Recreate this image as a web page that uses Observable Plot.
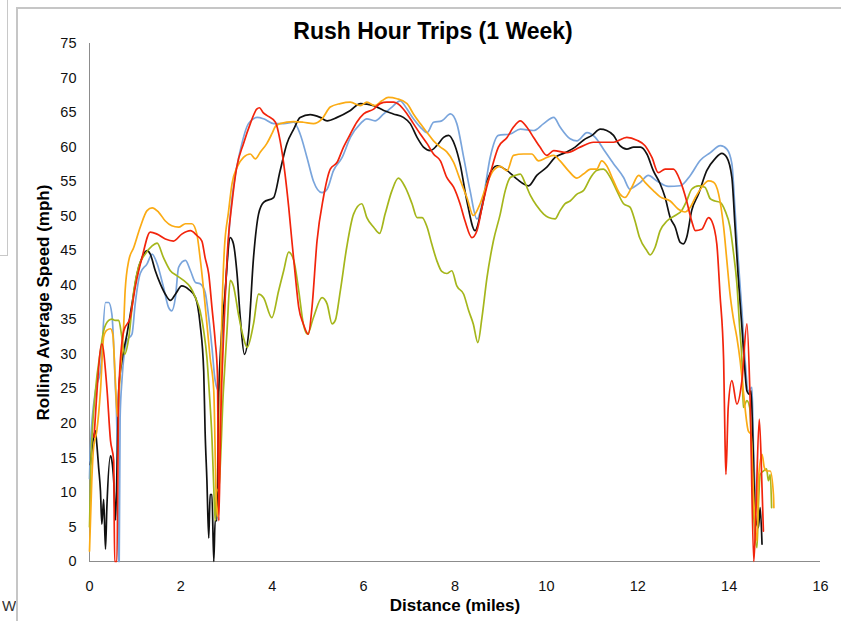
<!DOCTYPE html>
<html>
<head>
<meta charset="utf-8">
<script src="https://cdn.jsdelivr.net/npm/d3@7"></script>
<script src="https://cdn.jsdelivr.net/npm/@observablehq/plot@0.6"></script>
<style>
  body { margin: 0; background: #fff; }
  #wrap { position: relative; width: 841px; height: 621px; overflow: hidden; background: #fff; font-family: "Liberation Sans", Arial, sans-serif; }
  #box { position: absolute; left: -2px; top: -2px; width: 8px; height: 256px; border: 1px solid #c8c8c8; }
  #frame { position: absolute; left: 16px; top: 7px; width: 840px; height: 640px; border-top: 2px solid #c6c6c6; border-left: 2px solid #c6c6c6; }
  #w { position: absolute; left: 2px; top: 597px; font-size: 15px; color: #333; width: 14px; overflow: hidden; }
  #chart { position: absolute; left: 0; top: 0; }
</style>
</head>
<body>
<div id="wrap">
  <div id="box"></div>
  <div id="frame"></div>
  <div id="w">W</div>
  <div id="chart"></div>
</div>
<script>
const title = "Rush Hour Trips (1 Week)";
const xLabel = "Distance (miles)";
const yLabel = "Rolling Average Speed (mph)";
const xTicks = [0, 2, 4, 6, 8, 10, 12, 14, 16];
const yTicks = [0, 5, 10, 15, 20, 25, 30, 35, 40, 45, 50, 55, 60, 65, 70, 75];

const redTrip = [[0.10,18],[0.15,23.3],[0.27,31.5],[0.38,25.2],[0.46,17.5],[0.53,14.6],[0.55,0],[0.60,0],[0.64,24.7],[0.75,33.4],[0.89,35.3],[1.00,39.7],[1.15,44.0],[1.33,47.7],[1.48,47.4],[1.66,46.7],[1.84,46.4],[2.02,47.4],[2.21,47.9],[2.35,47.2],[2.46,46.4],[2.53,44.0],[2.61,41.6],[2.68,36.8],[2.75,32.0],[2.80,27.2],[2.83,5.9],[2.87,20],[2.95,35],[3.03,46],[3.12,52],[3.22,57],[3.37,60.5],[3.52,63.4],[3.66,65.5],[3.72,65.7],[3.80,65.0],[3.88,64.6],[4.07,63.6],[4.17,61.0],[4.28,56.1],[4.36,51.3],[4.43,46.4],[4.50,41.7],[4.58,36.8],[4.68,34.4],[4.79,32.9],[4.87,36.8],[4.98,46.4],[5.12,52.7],[5.27,56.8],[5.42,57.8],[5.56,60.0],[5.71,61.9],[5.85,63.6],[6.00,64.8],[6.22,65.5],[6.36,66.3],[6.51,66.5],[6.65,66.5],[6.80,66.0],[6.95,64.8],[7.09,63.4],[7.24,61.9],[7.39,60.5],[7.53,59.0],[7.68,58.0],[7.82,55.6],[7.97,54.2],[8.11,51.8],[8.22,49.3],[8.37,46.9],[8.48,47.9],[8.62,52.2],[8.77,56.1],[8.95,60.0],[9.14,61.4],[9.28,62.9],[9.43,63.8],[9.57,62.9],[9.72,61.4],[9.86,60.0],[10.01,58.8],[10.16,59.5],[10.45,59.2],[10.74,60.0],[11.03,60.7],[11.47,60.7],[11.76,61.4],[11.98,61.0],[12.16,60.2],[12.31,58.5],[12.45,56.3],[12.60,56.8],[12.78,56.8],[12.93,55.1],[13.07,52.2],[13.18,49.3],[13.26,47.9],[13.40,48.1],[13.55,49.8],[13.62,49.3],[13.73,46.0],[13.80,38.7],[13.88,29.1],[13.91,17.5],[13.93,12.6],[13.98,22.3],[14.06,26.2],[14.17,22.8],[14.28,26.2],[14.39,34.4],[14.46,23.3],[14.54,0],[14.58,5.9],[14.66,20.6],[14.72,10.7],[14.75,4.4]];

const blueTrip = [[0.0,12],[0.02,16.5],[0.13,24.7],[0.24,27.6],[0.35,37.5],[0.42,37.5],[0.49,35.8],[0.56,26.2],[0.60,18.9],[0.63,0],[0.65,0],[0.67,20.8],[0.71,26.2],[0.82,32],[0.93,32.9],[1.00,37.3],[1.11,41.7],[1.26,43.1],[1.37,44.5],[1.48,43.1],[1.62,39.7],[1.73,36.8],[1.80,36.3],[1.88,38.2],[1.95,42.6],[2.10,43.6],[2.21,42.1],[2.32,40.4],[2.42,40.2],[2.53,39.0],[2.61,35.3],[2.68,31.0],[2.75,26.2],[2.83,24.7],[2.90,31.0],[3.00,42],[3.08,50],[3.15,54.2],[3.30,59.5],[3.48,63.4],[3.67,64.3],[3.81,64.1],[4.03,63.4],[4.25,63.4],[4.47,63.6],[4.61,61.9],[4.76,58.5],[4.90,55.1],[5.09,53.4],[5.20,53.9],[5.34,56.6],[5.53,58.5],[5.71,61.4],[5.93,63.4],[6.07,64.1],[6.25,63.8],[6.44,64.8],[6.62,65.8],[6.80,66.7],[6.95,65.5],[7.09,64.1],[7.24,62.9],[7.39,62.1],[7.53,63.6],[7.71,63.8],[7.90,64.8],[8.04,63.4],[8.19,58.5],[8.33,53.7],[8.48,49.6],[8.62,52.7],[8.77,58.5],[8.95,61.7],[9.21,61.9],[9.43,62.6],[9.72,62.4],[9.94,63.4],[10.16,64.3],[10.30,62.9],[10.52,61.2],[10.67,60.9],[10.89,62.1],[11.07,61.4],[11.25,59.7],[11.47,57.6],[11.69,55.6],[11.83,53.9],[11.91,54.2],[12.06,54.9],[12.23,55.9],[12.42,55.1],[12.67,54.3],[12.93,54.4],[13.15,55.9],[13.37,58.1],[13.59,59.2],[13.81,60.2],[13.95,59.7],[14.06,57.6],[14.13,50.8],[14.20,43.6],[14.28,36.3],[14.35,29.1],[14.42,24.7],[14.50,25.2],[14.53,17.5],[14.57,10.2],[14.61,7.8]];

const blackTrip = [[0.02,14],[0.09,18],[0.13,18.9],[0.16,17.0],[0.20,13.6],[0.24,10.2],[0.27,5.4],[0.31,9.0],[0.35,1.8],[0.38,7.8],[0.46,15.3],[0.49,14.6],[0.53,11.7],[0.57,6],[0.61,16],[0.64,24.7],[0.71,29.1],[0.82,32.9],[0.93,37.3],[1.04,41.6],[1.15,44.0],[1.26,45.0],[1.33,44.5],[1.44,42.1],[1.55,40.2],[1.66,38.7],[1.77,37.8],[1.88,38.7],[2.02,39.9],[2.17,39.4],[2.32,38.2],[2.42,34.4],[2.50,27.5],[2.53,18.9],[2.57,11.7],[2.61,3.4],[2.64,9.7],[2.68,9.7],[2.72,0],[2.75,5.9],[2.79,5.9],[2.83,24.7],[2.97,39.2],[3.08,46.9],[3.15,46.0],[3.23,41.6],[3.30,35.3],[3.39,30.0],[3.48,32.9],[3.59,44.0],[3.70,50.3],[3.81,52.0],[4.03,52.7],[4.17,56.5],[4.32,60.5],[4.47,62.6],[4.61,64.3],[4.83,64.7],[5.05,64.3],[5.20,63.8],[5.42,64.3],[5.71,65.3],[5.93,66.3],[6.22,66.0],[6.44,65.3],[6.65,64.8],[6.87,64.3],[7.02,63.4],[7.17,61.4],[7.31,60.0],[7.46,59.5],[7.60,60.2],[7.75,61.4],[7.86,61.7],[8.00,60.2],[8.11,57.6],[8.26,52.2],[8.44,47.9],[8.59,51.3],[8.73,55.6],[8.92,57.3],[9.14,56.6],[9.35,55.4],[9.61,54.4],[9.79,55.9],[10.01,57.1],[10.19,58.5],[10.41,59.2],[10.63,60.0],[10.81,61.0],[11.00,61.7],[11.18,62.6],[11.32,62.4],[11.47,61.7],[11.61,60.2],[11.76,59.7],[11.91,60.0],[12.06,60.0],[12.20,59.0],[12.34,56.6],[12.49,54.7],[12.60,52.7],[12.71,49.8],[12.82,48.4],[12.93,46.2],[13.00,46.0],[13.07,46.9],[13.18,50.8],[13.33,53.2],[13.51,56.6],[13.69,58.3],[13.84,59.1],[13.95,58.5],[14.06,55.6],[14.13,48.4],[14.20,41.1],[14.28,33.9],[14.33,29.1],[14.39,24.7],[14.45,24.2],[14.48,24.7],[14.52,17.5],[14.57,6.8],[14.64,4.9],[14.68,7.8],[14.72,2.5]];

const orangeTrip = [[0.0,1.5],[0.05,11.7],[0.09,16.5],[0.16,18.9],[0.24,24.7],[0.31,32.5],[0.38,33.5],[0.46,33.7],[0.51,32.9],[0.56,27],[0.61,21],[0.67,27.1],[0.75,34.4],[0.78,39.2],[0.86,43.6],[0.97,45.5],[1.11,48.4],[1.26,50.8],[1.37,51.2],[1.51,50.6],[1.66,49.3],[1.80,48.6],[1.95,48.4],[2.10,48.9],[2.24,48.9],[2.35,47.4],[2.42,44.0],[2.50,39.2],[2.57,34.4],[2.64,29.5],[2.72,24.7],[2.77,10],[2.80,6.5],[2.84,12],[2.88,30],[2.95,45],[3.04,50.5],[3.12,54.7],[3.23,57.1],[3.37,58.5],[3.52,59.0],[3.63,58.3],[3.74,59.3],[3.88,60.5],[3.99,61.9],[4.07,63.0],[4.17,63.4],[4.47,63.7],[4.68,63.6],[4.90,63.4],[5.09,64.1],[5.27,65.8],[5.49,66.3],[5.71,66.5],[5.93,66.0],[6.07,66.5],[6.25,66.0],[6.40,66.7],[6.54,67.2],[6.73,67.0],[6.95,66.3],[7.09,64.8],[7.24,63.4],[7.39,62.1],[7.53,60.9],[7.68,60.0],[7.82,59.3],[7.97,57.8],[8.11,55.3],[8.26,52.7],[8.40,50.1],[8.55,51.8],[8.70,54.7],[8.84,56.6],[8.99,57.2],[9.14,56.6],[9.28,58.8],[9.50,59.0],[9.68,59.0],[9.83,58.0],[10.01,58.5],[10.16,58.8],[10.30,58.0],[10.48,56.6],[10.67,55.5],[10.81,56.1],[10.97,56.8],[11.10,56.8],[11.21,58.0],[11.32,57.3],[11.47,55.1],[11.61,53.2],[11.72,52.7],[11.87,54.2],[12.02,55.9],[12.16,54.9],[12.34,53.7],[12.49,52.8],[12.71,52.2],[12.89,51.0],[13.03,50.6],[13.15,51.3],[13.26,52.7],[13.40,54.2],[13.55,55.1],[13.66,54.9],[13.77,53.2],[13.88,48.4],[13.95,43.6],[14.02,38.7],[14.09,35.3],[14.17,32.4],[14.24,29.1],[14.31,24.7],[14.42,18.9],[14.48,18.4],[14.53,10.2],[14.61,3.0],[14.64,11.7],[14.72,15.5],[14.77,13.6],[14.82,13.1],[14.90,13.1],[14.97,9.7],[14.98,7.8]];

const greenTrip = [[0.0,5],[0.03,14],[0.13,24.7],[0.24,30.5],[0.31,33.4],[0.42,34.9],[0.49,35.1],[0.56,34.9],[0.64,34.9],[0.71,32.4],[0.77,30.0],[0.86,32.4],[0.97,39.2],[1.07,42.6],[1.22,44.5],[1.37,45.7],[1.48,46.1],[1.62,44.0],[1.77,42.1],[1.91,41.4],[2.06,40.7],[2.21,39.7],[2.32,38.2],[2.42,36.3],[2.50,33.4],[2.57,29.5],[2.62,24.7],[2.68,17.9],[2.72,10.7],[2.75,5.9],[2.78,10.0],[2.83,10.7],[2.93,24.7],[3.01,33.4],[3.08,40.7],[3.15,39.9],[3.26,35.8],[3.37,32.4],[3.45,31.0],[3.59,34.4],[3.70,38.7],[3.81,38.2],[3.99,35.3],[4.14,39.2],[4.25,42.1],[4.36,44.8],[4.47,43.6],[4.58,39.2],[4.68,34.4],[4.77,32.9],[4.90,35.3],[5.09,38.2],[5.20,37.3],[5.31,34.4],[5.38,34.9],[5.49,39.2],[5.63,45.5],[5.78,50.3],[5.96,51.8],[6.07,49.8],[6.22,48.4],[6.35,47.5],[6.47,50.3],[6.62,53.7],[6.76,55.5],[6.91,54.2],[7.06,51.8],[7.17,49.8],[7.28,49.8],[7.39,48.4],[7.49,46.0],[7.60,43.6],[7.71,42.0],[7.82,41.7],[7.93,42.1],[8.04,39.9],[8.19,38.7],[8.30,36.3],[8.40,34.4],[8.50,31.7],[8.59,35.3],[8.70,41.1],[8.84,46.4],[8.99,50.3],[9.10,53.7],[9.21,55.6],[9.32,55.9],[9.43,56.1],[9.54,54.7],[9.65,53.0],[9.79,51.5],[9.94,50.3],[10.05,49.8],[10.19,49.6],[10.30,50.8],[10.41,51.8],[10.52,52.2],[10.67,53.2],[10.81,53.7],[10.97,55.6],[11.10,56.6],[11.25,56.8],[11.40,55.6],[11.54,53.7],[11.69,51.8],[11.83,51.3],[11.94,49.3],[12.04,46.9],[12.20,45.0],[12.27,44.4],[12.38,45.5],[12.49,47.9],[12.64,49.3],[12.82,50.1],[12.96,50.8],[13.07,52.2],[13.18,53.9],[13.33,54.4],[13.47,54.2],[13.59,52.5],[13.69,52.2],[13.80,52.0],[13.91,50.8],[14.02,48.4],[14.09,45.0],[14.17,40.2],[14.23,33.9],[14.28,29.0],[14.31,22.3],[14.39,23.3],[14.45,22.3],[14.48,18.4],[14.53,7.8],[14.61,2.0],[14.64,7.8],[14.68,12.6],[14.75,13.1],[14.82,13.4],[14.86,11.7],[14.90,12.6],[14.93,7.8]];

const seriesColors = {blue: "#7aa5dc", black: "#111111", green: "#a5b61b", orange: "#fbab14", red: "#f2240c"};
const seriesData = [
  ["blue", blueTrip], ["black", blackTrip], ["green", greenTrip], ["orange", orangeTrip], ["red", redTrip]
];

const lineMarks = seriesData.map(([name, pts]) =>
  Plot.line(pts, {x: d => d[0], y: d => d[1], stroke: seriesColors[name], strokeWidth: 1.7, curve: "monotone-x"})
);

const chart = Plot.plot({
  width: 841,
  height: 621,
  marginLeft: 89,
  marginRight: 21,
  marginTop: 43,
  marginBottom: 60,
  style: {background: "transparent", fontFamily: "'Liberation Sans', Arial, sans-serif", fontSize: "14.5px", color: "#111", overflow: "visible"},
  x: {domain: [0, 16], ticks: xTicks, tickSize: 0, tickPadding: 19, label: null},
  y: {domain: [0, 75], ticks: yTicks, tickSize: 0, tickPadding: 13, label: null},
  marks: [
    Plot.ruleX([0], {stroke: "#8c8c8c", strokeWidth: 1}),
    Plot.ruleY([0], {stroke: "#8c8c8c", strokeWidth: 1}),
    ...lineMarks,
    Plot.text([title], {frameAnchor: "top", lineAnchor: "middle", textAnchor: "middle", dx: -22, dy: -12, fontSize: 23, fontWeight: "bold", fill: "#000"}),
    Plot.text([xLabel], {frameAnchor: "bottom", lineAnchor: "middle", textAnchor: "middle", dy: 44, fontSize: 17, fontWeight: "bold", fill: "#000"}),
    Plot.text([yLabel], {frameAnchor: "left", lineAnchor: "middle", textAnchor: "middle", dx: -46, rotate: -90, fontSize: 17, fontWeight: "bold", fill: "#000"})
  ]
});
document.getElementById("chart").appendChild(chart);
</script>
</body>
</html>
